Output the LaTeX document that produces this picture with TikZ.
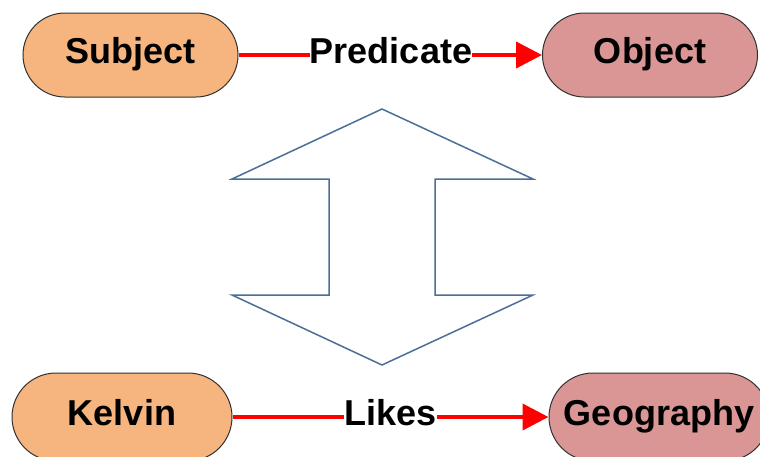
\documentclass[tikz,border=0pt]{standalone}
\usepackage{fontspec}
\setmainfont{Liberation Sans}
\usetikzlibrary{arrows.meta}
\definecolor{subjfill}{RGB}{246,180,126}
\definecolor{objfill}{RGB}{217,150,148}
\definecolor{boxline}{RGB}{50,50,50}
\definecolor{flowred}{RGB}{255,0,0}
\definecolor{arrowblue}{RGB}{76,111,152}
\tikzset{
  term/.style={draw=boxline, line width=1pt, rounded corners=#1,
    inner sep=0pt, text height=24pt, text depth=8pt,
    font=\fontsize{36}{40}\selectfont\bfseries},
  subj/.style={term=42pt, fill=subjfill, minimum width=215pt, minimum height=84pt},
  obj/.style={term=42pt, fill=objfill, minimum width=215pt, minimum height=84pt},
  subjb/.style={term=44pt, fill=subjfill, minimum width=220pt, minimum height=88pt},
  objb/.style={term=44pt, fill=objfill, minimum width=220pt, minimum height=88pt},
  rel/.style={inner sep=0pt, text height=24pt, text depth=8pt,
    font=\fontsize{36}{40}\selectfont\bfseries},
  link/.style={draw=flowred, line width=4pt},
  linkarrow/.style={link, -{Triangle[length=26pt,width=26pt]}},
  bigarrow/.style={draw=arrowblue, line width=1.5pt, fill=white, line join=miter}
}
\begin{document}
\begin{tikzpicture}[x=1pt, y=-1pt]
  \useasboundingbox (0,0) rectangle (760,456);
  \clip (0,0) rectangle (760,456);
  \fill[white] (0,0) rectangle (760,456);

  % generic triple
  \node[subj] (subject) at (130.5,55) {Subject};
  \node[obj]  (object)  at (650,55)   {Object};
  \node[rel]  (pred)    at (391,55)   {Predicate};
  \draw[link] (subject.east) -- (pred.west);
  \draw[linkarrow] (pred.east) -- (object.west);

  % double-headed block arrow between the two rows
  \draw[bigarrow] (382,109) -- (533,179) -- (435,179) -- (435,295) -- (533,295)
    -- (382,365) -- (232,295) -- (329,295) -- (329,179) -- (232,179) -- cycle;

  % concrete triple
  \node[subjb] (kelvin) at (122,417) {Kelvin};
  \node[objb]  (geo)    at (659,417) {Geography};
  \node[rel]   (likes)  at (390.5,417) {Likes};
  \draw[link] (kelvin.east) -- (likes.west);
  \draw[linkarrow] (likes.east) -- (geo.west);
\end{tikzpicture}
\end{document}
